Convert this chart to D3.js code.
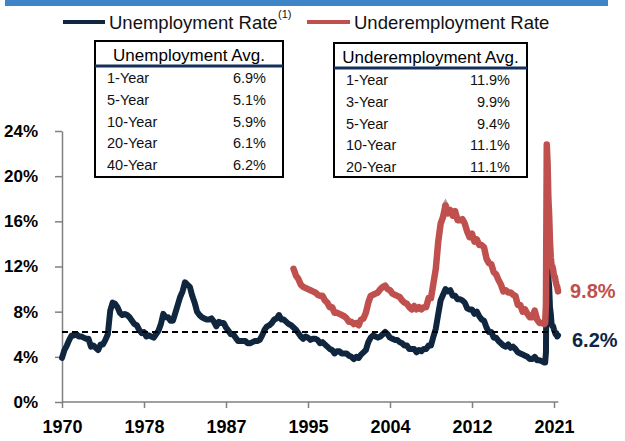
<!DOCTYPE html>
<html>
<head>
<meta charset="utf-8">
<script src="https://cdn.jsdelivr.net/npm/d3@7"></script>
<style>
  html, body { margin: 0; padding: 0; background: #fff; }
  svg { display: block; font-family: "Liberation Sans", Arial, sans-serif; }
</style>
</head>
<body>
<svg id="chart" width="625" height="441"></svg>
<script>
// ---------------- DATA ----------------
// Unemployment rate (%), quarterly samples Jan/Apr/Jul/Oct, 1970 – 2019
const unemploymentQuarterly = [
  3.9, 4.6, 5.0, 5.5,   5.9, 5.9, 6.0, 5.8,   5.8, 5.7, 5.6, 5.6,   4.9, 5.0, 4.8, 4.6,
  5.1, 5.1, 5.5, 6.0,   8.1, 8.8, 8.7, 8.4,   7.9, 7.7, 7.8, 7.7,   7.5, 7.2, 6.9, 6.8,
  6.4, 6.1, 6.2, 5.8,   5.9, 5.8, 5.7, 6.0,   6.3, 6.9, 7.8, 7.5,   7.5, 7.2, 7.2, 7.9,
  8.6, 9.3, 9.8, 10.6,  10.4, 10.2, 9.4, 8.8, 8.0, 7.7, 7.5, 7.4,   7.3, 7.3, 7.4, 7.1,
  6.7, 7.1, 7.0, 7.0,   6.6, 6.3, 6.0, 6.0,   5.7, 5.4, 5.4, 5.4,   5.4, 5.2, 5.2, 5.3,
  5.4, 5.4, 5.5, 5.9,   6.4, 6.7, 6.8, 7.0,   7.3, 7.4, 7.7, 7.3,   7.3, 7.1, 6.9, 6.8,
  6.6, 6.4, 6.1, 5.8,   5.6, 5.8, 5.7, 5.5,   5.6, 5.6, 5.5, 5.2,   5.3, 5.1, 4.9, 4.7,
  4.6, 4.3, 4.5, 4.5,   4.3, 4.3, 4.3, 4.1,   4.0, 3.8, 4.0, 3.9,   4.2, 4.4, 4.6, 5.3,
  5.7, 5.9, 5.8, 5.7,   5.8, 6.0, 6.2, 6.0,   5.7, 5.6, 5.5, 5.5,   5.3, 5.2, 5.0, 5.0,
  4.7, 4.7, 4.7, 4.4,   4.6, 4.5, 4.7, 4.7,   5.0, 5.0, 5.8, 6.5,   7.8, 9.0, 9.5, 10.0,
  9.8, 9.9, 9.4, 9.4,   9.1, 9.1, 9.0, 8.8,   8.3, 8.2, 8.2, 7.8,   8.0, 7.6, 7.3, 7.2,
  6.6, 6.2, 6.2, 5.7,   5.7, 5.4, 5.2, 5.0,   4.9, 5.1, 4.8, 4.9,   4.7, 4.4, 4.3, 4.2,
  4.1, 4.0, 3.8, 3.8,   4.0, 3.7, 3.7, 3.6
];
// Unemployment rate (%), monthly, Jan 2020 – Jun 2021
const unemploymentMonthly = [
  3.5, 3.5, 4.4, 14.7, 13.2, 11.0, 10.2, 8.4, 7.8, 6.9, 6.7, 6.7,
  6.4, 6.2, 6.0, 6.1, 5.8, 5.9
];
// Underemployment rate (%), quarterly samples Jan/Apr/Jul/Oct, 1994 – 2019
const underemploymentQuarterly = [
  11.8, 11.2, 10.9, 10.4,  10.2, 10.1, 10.0, 9.9,   9.8, 9.7, 9.5, 9.4,    9.4, 9.0, 8.8, 8.4,
  8.4, 7.9, 7.9, 7.8,      7.7, 7.6, 7.4, 7.1,      7.1, 6.9, 7.0, 6.8,    7.3, 7.4, 7.9, 8.8,
  9.4, 9.5, 9.6, 9.7,      10.0, 10.2, 10.3, 10.0,  9.9, 9.6, 9.5, 9.4,    9.3, 9.0, 8.8, 8.7,
  8.4, 8.2, 8.5, 8.2,      8.4, 8.2, 8.4, 8.4,      9.2, 9.2, 10.5, 11.8,  14.2, 15.8, 16.4, 17.4,
  16.7, 17.0, 16.5, 16.9,  16.1, 16.1, 16.2, 15.8,  15.1, 14.6, 14.9, 14.2,  14.4, 13.9, 13.9, 13.7,
  12.7, 12.3, 12.2, 11.5,  11.3, 10.8, 10.4, 9.8,   9.9, 9.7, 9.7, 9.5,    9.4, 8.6, 8.6, 8.0,
  8.2, 7.8, 7.5, 7.5,      8.1, 7.3, 7.0, 7.0
];
// Underemployment rate (%), monthly, Jan 2020 – Jun 2021
const underemploymentMonthly = [
  6.9, 7.0, 8.7, 22.8, 21.2, 18.0, 16.5, 14.2, 12.8, 12.1, 12.0, 11.7,
  11.1, 11.1, 10.7, 10.4, 10.2, 9.8
];
const unemploymentAvg40 = 6.2;
const lastLabels = ["9.8%", "6.2%"];

const yTicks = [0, 4, 8, 12, 16, 20, 24];
const xTickLabels = ["1970", "1978", "1987", "1995", "2004", "2012", "2021"];

const unempTableTitle = "Unemployment Avg.";
const unempTableRows = ["1-Year", "5-Year", "10-Year", "20-Year", "40-Year"];
const unempTableVals = ["6.9%", "5.1%", "5.9%", "6.1%", "6.2%"];
const underTableTitle = "Underemployment Avg.";
const underTableRows = ["1-Year", "3-Year", "5-Year", "10-Year", "20-Year"];
const underTableVals = ["11.9%", "9.9%", "9.4%", "11.1%", "11.1%"];

const legendNames = ["Unemployment Rate", "Underemployment Rate"];

// ---------------- BUILD SERIES ----------------
function buildSeries(startYear, quarterly, monthly) {
  const pts = quarterly.map((v, i) => ({ t: startYear + i * 0.25, v }));
  monthly.forEach((v, i) => pts.push({ t: 2020 + i / 12, v }));
  return pts;
}
const unemp = buildSeries(1970, unemploymentQuarterly, unemploymentMonthly);
const under = buildSeries(1994, underemploymentQuarterly, underemploymentMonthly);

// ---------------- CHART ----------------
const NAVY = "#10263f";
const RED = "#c0504d";
const svg = d3.select("#chart");

const x = d3.scaleLinear().domain([1970, 2021]).range([62, 554]);
const y = d3.scaleLinear().domain([0, 24]).range([402, 131]);

// top band
svg.append("rect").attr("x", 5).attr("y", 0).attr("width", 603).attr("height", 6).attr("fill", "#3d85c6");

// y axis
const yAxis = svg.append("g").attr("transform", `translate(${x(1970)},0)`)
  .call(d3.axisLeft(y).tickValues(yTicks).tickSize(7).tickSizeOuter(0).tickPadding(17).tickFormat(d => d + "%"));
yAxis.select(".domain").attr("stroke", "#808080").attr("stroke-width", 1.5);
yAxis.selectAll(".tick line").attr("stroke", "#808080").attr("stroke-width", 1.5);
yAxis.selectAll(".tick text").attr("font-size", 17).attr("font-weight", "bold").attr("fill", "#000")
  .attr("font-family", "Liberation Sans, Arial, sans-serif");

// x axis
const xTickPos = d3.range(xTickLabels.length).map(i => 1970 + i * (2021 - 1970) / (xTickLabels.length - 1));
const xAxis = svg.append("g").attr("transform", `translate(0,${y(0)})`)
  .call(d3.axisBottom(x).tickValues(xTickPos).tickSize(6).tickSizeOuter(0).tickPadding(12)
    .tickFormat((d, i) => xTickLabels[i]));
xAxis.select(".domain").remove();
xAxis.append("line").attr("x1", x(1970)).attr("x2", x(2021.45)).attr("y1", 0).attr("y2", 0)
  .attr("stroke", "#808080").attr("stroke-width", 1.5);
xAxis.selectAll(".tick line").attr("stroke", "#808080").attr("stroke-width", 1.5);
xAxis.selectAll(".tick text").attr("font-size", 18).attr("font-weight", "bold").attr("fill", "#000")
  .attr("font-family", "Liberation Sans, Arial, sans-serif");

const line = d3.line().x(d => x(d.t)).y(d => y(d.v));

// unemployment line
svg.append("path").datum(unemp).attr("d", line).attr("fill", "none")
  .attr("stroke", NAVY).attr("stroke-width", 6).attr("stroke-linejoin", "round").attr("stroke-linecap", "round");

// 40-year average dashed line
svg.append("line").attr("x1", x(1970)).attr("x2", x(2021.1))
  .attr("y1", y(unemploymentAvg40)).attr("y2", y(unemploymentAvg40))
  .attr("stroke", "#000").attr("stroke-width", 2).attr("stroke-dasharray", "6,4");

// grey marker at underemployment peak (pre-2020)
const peak = d3.greatest(under.filter(d => d.t < 2015), d => d.v);
svg.append("path").attr("d", d3.symbol(d3.symbolDiamond, 55)())
  .attr("transform", `translate(${x(peak.t)},${y(peak.v)})`).attr("fill", "#a6a6a6");

// underemployment line
svg.append("path").datum(under).attr("d", line).attr("fill", "none")
  .attr("stroke", RED).attr("stroke-width", 6.5).attr("stroke-linejoin", "round").attr("stroke-linecap", "round");

// end labels
const lastUnder = under[under.length - 1];
svg.append("text").attr("x", 570).attr("y", y(lastUnder.v) + 7).text(lastLabels[0])
  .attr("font-size", 20).attr("font-weight", "bold").attr("fill", RED);
svg.append("text").attr("x", 572).attr("y", y(unemploymentAvg40) + 15).text(lastLabels[1])
  .attr("font-size", 20).attr("font-weight", "bold").attr("fill", NAVY);

// legend
const leg = svg.append("g");
leg.append("line").attr("x1", 63).attr("x2", 105).attr("y1", 22).attr("y2", 22).attr("stroke", NAVY).attr("stroke-width", 4);
leg.append("text").attr("x", 109).attr("y", 29).attr("font-size", 18.5).attr("fill", "#111").text(legendNames[0]);
leg.append("text").attr("x", 278).attr("y", 18).attr("font-size", 11).attr("fill", "#111").text("(1)");
leg.append("line").attr("x1", 307).attr("x2", 350).attr("y1", 22).attr("y2", 22).attr("stroke", RED).attr("stroke-width", 4);
leg.append("text").attr("x", 354).attr("y", 29).attr("font-size", 18.5).attr("fill", "#111").text(legendNames[1]);

// tables
function table(x0, y0, w, h, title, rows, vals, valRight) {
  const g = svg.append("g");
  g.append("rect").attr("x", x0).attr("y", y0).attr("width", w).attr("height", h)
    .attr("fill", "#fff").attr("stroke", "#000").attr("stroke-width", 2);
  g.append("text").attr("x", x0 + w / 2).attr("y", y0 + 20).attr("text-anchor", "middle")
    .attr("font-size", 17).attr("fill", "#000").text(title);
  g.append("line").attr("x1", x0).attr("x2", x0 + w).attr("y1", y0 + 25).attr("y2", y0 + 25)
    .attr("stroke", "#14305a").attr("stroke-width", 3);
  rows.forEach((r, i) => {
    const yy = y0 + 42 + i * 21.8;
    g.append("text").attr("x", x0 + 12).attr("y", yy).attr("font-size", 14.5).attr("fill", "#111").text(r);
    g.append("text").attr("x", valRight).attr("y", yy).attr("text-anchor", "end")
      .attr("font-size", 14.5).attr("fill", "#111").text(vals[i]);
  });
}
table(95, 41, 188, 136, unempTableTitle, unempTableRows, unempTableVals, 266);
table(334, 43, 193, 134, underTableTitle, underTableRows, underTableVals, 510);
</script>
</body>
</html>
